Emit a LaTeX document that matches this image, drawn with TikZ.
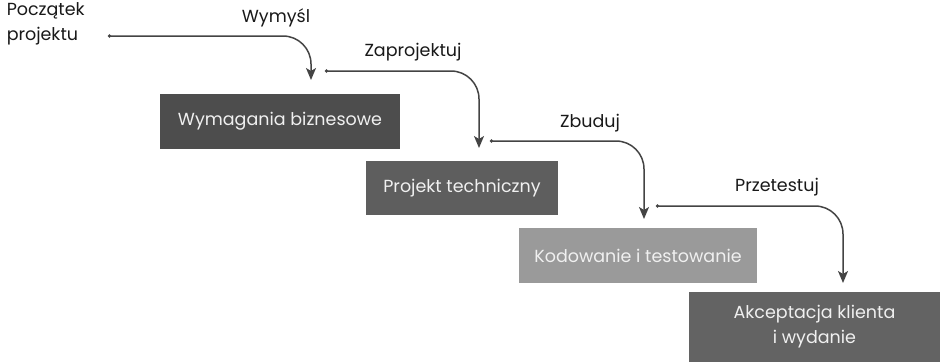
\documentclass[tikz,border=0pt]{standalone}
\usepackage{fontspec}
\setmainfont{Poppins}
\usetikzlibrary{arrows.meta, positioning}

\definecolor{faza1}{HTML}{4D4D4D}
\definecolor{faza2}{HTML}{5E5E5E}
\definecolor{faza3}{HTML}{9A9A9A}
\definecolor{faza4}{HTML}{636363}
\definecolor{strzalka}{HTML}{444444}

\begin{document}
\begin{tikzpicture}[x=1pt,y=-1pt,font=\fontsize{17.5}{25}\selectfont,
		>={Stealth[length=12pt,width=10pt,inset=3pt]},line width=1.5pt]

		\tikzset{faza/.style={draw=none, minimum height=55pt,
				inner sep=0pt, text=white!94!black, align=center}}
		\tikzset{przejscie/.style={draw=strzalka, {Circle[length=3pt]}->,
				rounded corners=28pt}}
		\tikzset{etykieta/.style={text=black!90, inner sep=0pt}}

	\useasboundingbox (0,0) rectangle (940,362);

	\node[faza, fill=faza1, minimum width=240pt] (W) at (280,121.5) {Wymagania biznesowe};
	\node[faza, fill=faza2, minimum width=192pt, minimum height=54pt] (P) at (462,188) {Projekt techniczny};
	\node[faza, fill=faza3, minimum width=238pt] (K) at (638,255.5) {Kodowanie i testowanie};
	\node[faza, fill=faza4, minimum width=251pt, minimum height=70pt] (A) at (814.5,327)
		{Akceptacja klienta\\i wydanie};

	\node[etykieta, align=left, anchor=north west] (start) at (6,2) {Początek\\projektu};

	\coordinate (s1) at (108,36);
	\coordinate (e1) at (311,80);
	\coordinate (s2) at (325,71);
	\coordinate (e2) at (479,148);
	\coordinate (s3) at (490,141);
	\coordinate (e3) at (644,219);
	\coordinate (s4) at (656,206);
	\coordinate (e4) at (843,283);

	\draw[przejscie] (s1) -| (e1);
	\draw[przejscie] (s2) -| (e2);
	\draw[przejscie] (s3) -| (e3);
	\draw[przejscie] (s4) -| (e4);

	\node[etykieta] (l1) at (276,18) {Wymyśl};
	\node[etykieta] (l2) at (413,52) {Zaprojektuj};
	\node[etykieta] (l3) at (590,123) {Zbuduj};
	\node[etykieta] (l4) at (777,187) {Przetestuj};
\end{tikzpicture}
\end{document}
